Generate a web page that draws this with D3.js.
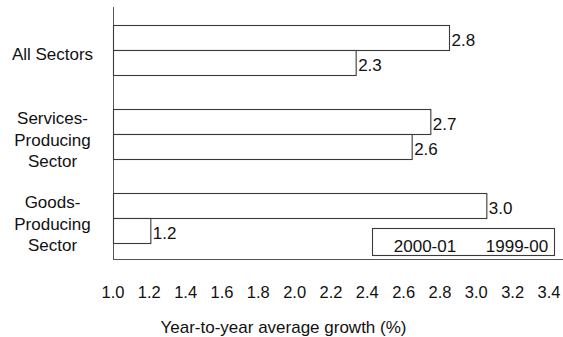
<!DOCTYPE html>
<html>
<head>
<meta charset="utf-8">
<script src="https://cdn.jsdelivr.net/npm/d3@7"></script>
<style>
  html, body { margin: 0; padding: 0; background: #fff; }
  svg { display: block; font-family: "Liberation Sans", Arial, sans-serif; }
</style>
</head>
<body>
<svg id="chart" width="563" height="337"></svg>
<script>
// Sector categories, top to bottom (each line of a label is an entry)
const categories = ["All Sectors", "Services-Producing Sector", "Goods-Producing Sector"];
const categoryLines = [["All Sectors"], ["Services-", "Producing", "Sector"], ["Goods-", "Producing", "Sector"]];

// Series, upper bar first within each group
const seriesNames = ["1999-00", "2000-01"];
const values1999 = [2.8, 2.7, 3.0];
const values2000 = [2.3, 2.6, 1.2];

// Legend order and axis labels
const legendNames = ["2000-01", "1999-00"];
const tickLabels = ["1.0", "1.2", "1.4", "1.6", "1.8", "2.0", "2.2", "2.4", "2.6", "2.8", "3.0", "3.2", "3.4"];
const axisTitle = "Year-to-year average growth (%)";

const svg = d3.select("#chart");
const ink = "#111";
const lineColor = "#3a3a3a";
const fontSize = 17;

// Value scale for the bars
const x = d3.scaleLinear().domain([1.0, 3.4]).range([113.5, 561.5]);
// Positions of the printed tick labels along the bottom
const xTicks = d3.scalePoint().domain(tickLabels).range([113, 549]);

// Category bands and series sub-bands
const y = d3.scaleBand().domain(categories).range([8, 260]);
const yInner = d3.scaleBand().domain(seriesNames).range([0, 50]);

const rows = categories.map((c, i) => ({
  category: c,
  lines: categoryLines[i],
  bars: [
    { series: seriesNames[0], value: values1999[i] },
    { series: seriesNames[1], value: values2000[i] }
  ]
}));

// Axis lines
svg.append("line")
  .attr("x1", x(1.0)).attr("x2", x(1.0))
  .attr("y1", 7).attr("y2", 260)
  .attr("stroke", "#555").attr("stroke-width", 1);
svg.append("line")
  .attr("x1", x(1.0)).attr("x2", 563)
  .attr("y1", 259.5).attr("y2", 259.5)
  .attr("stroke", "#555").attr("stroke-width", 1);

// Bars with value labels
const groups = svg.selectAll("g.cat").data(rows).join("g")
  .attr("class", "cat")
  .attr("transform", d => `translate(0,${y(d.category) + y.bandwidth() / 2 - 25})`);

groups.selectAll("rect").data(d => d.bars).join("rect")
  .attr("x", x(1.0))
  .attr("y", d => Math.round(yInner(d.series)) + 0.5)
  .attr("width", d => x(d.value) - x(1.0))
  .attr("height", yInner.bandwidth())
  .attr("fill", "#fff")
  .attr("stroke", lineColor)
  .attr("stroke-width", 1.1);

groups.selectAll("text.val").data(d => d.bars).join("text")
  .attr("class", "val")
  .attr("x", d => x(d.value) + 2)
  .attr("y", d => yInner(d.series) + yInner.bandwidth() / 2 + 8.5)
  .attr("font-size", fontSize)
  .attr("fill", ink)
  .text(d => d.value.toFixed(1));

// Category labels
svg.selectAll("text.cat").data(rows).join("text")
  .attr("class", "cat")
  .attr("text-anchor", "middle")
  .attr("font-size", fontSize)
  .attr("fill", ink)
  .each(function (d) {
    const cy = y(d.category) + y.bandwidth() / 2;
    const t = d3.select(this);
    if (d.lines.length === 1) {
      t.append("tspan").attr("x", 52.5).attr("y", cy + 9.5).text(d.lines[0]);
    } else {
      d.lines.forEach((ln, k) => {
        t.append("tspan").attr("x", 52.5).attr("y", cy - 10 + k * 21.5).text(ln);
      });
    }
  });

// Tick labels and axis title
svg.selectAll("text.tick").data(tickLabels).join("text")
  .attr("class", "tick")
  .attr("x", d => xTicks(d))
  .attr("y", 297.5)
  .attr("text-anchor", "middle")
  .attr("font-size", 16.5)
  .attr("fill", ink)
  .text(d => d);

svg.append("text")
  .attr("x", 283.5).attr("y", 332.5)
  .attr("text-anchor", "middle")
  .attr("font-size", fontSize)
  .attr("fill", ink)
  .text(axisTitle);

// Legend box
const legend = svg.append("g");
legend.append("rect")
  .attr("x", 372.5).attr("y", 228.5)
  .attr("width", 182).attr("height", 27)
  .attr("fill", "#fff")
  .attr("stroke", lineColor).attr("stroke-width", 1.1);
const legendX = d3.scalePoint().domain(legendNames).range([425, 517]);
legend.selectAll("text").data(legendNames).join("text")
  .attr("x", d => legendX(d))
  .attr("y", 252)
  .attr("text-anchor", "middle")
  .attr("font-size", fontSize)
  .attr("fill", ink)
  .text(d => d);
</script>
</body>
</html>
